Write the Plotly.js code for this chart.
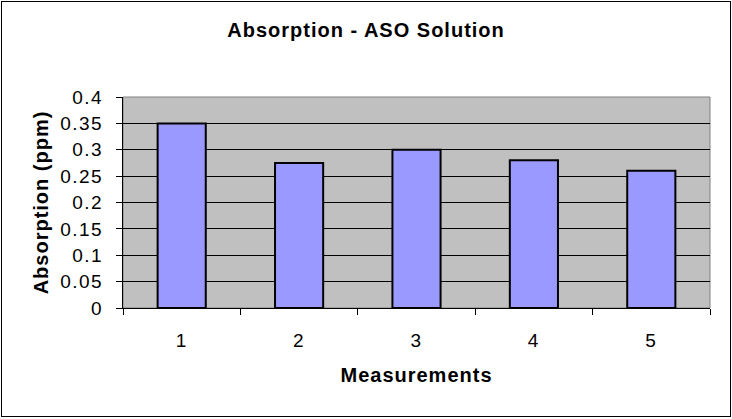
<!DOCTYPE html>
<html>
<head>
<meta charset="utf-8">
<script src="https://cdn.plot.ly/plotly-3.0.1.min.js"></script>
<style>
  html, body { margin: 0; padding: 0; background: #fff; }
  #wrap { position: relative; width: 732px; height: 419px; }
  #chart { width: 732px; height: 419px; }
  #border { position: absolute; left: 1px; top: 1px; width: 728px; height: 414px; border: 1px solid #000; pointer-events: none; }
  #chart .gtitle, #chart .xtitle, #chart .ytitle { letter-spacing: 1px; }
</style>
</head>
<body>
<div id="wrap">
  <div id="chart"></div>
  <div id="border"></div>
</div>
<script>
const categories = ["1", "2", "3", "4", "5"];
const absorption = [0.35, 0.275, 0.30, 0.28, 0.26];
const yTickVals = [0, 0.05, 0.1, 0.15, 0.2, 0.25, 0.3, 0.35, 0.4];
const yTickText = ["0", "0.05", "0.1", "0.15", "0.2", "0.25", "0.3", "0.35", "0.4"];

const font = "Liberation Sans, Arial, sans-serif";

const trace = {
  type: "bar",
  x: categories,
  y: absorption,
  marker: { color: "#9999FF", line: { color: "#000000", width: 2 } },
  hoverinfo: "none"
};

const layout = {
  width: 732,
  height: 419,
  margin: { l: 123, r: 22, t: 97, b: 111 },
  paper_bgcolor: "#ffffff",
  plot_bgcolor: "#C0C0C0",
  bargap: 0.59,
  showlegend: false,
  title: {
    text: "<b>Absorption - ASO Solution</b>",
    font: { family: font, size: 20, color: "#000" },
    x: 0.5, xanchor: "center",
    y: 0.928, yanchor: "middle", yref: "container"
  },
  xaxis: {
    type: "category",
    tickson: "boundaries",
    ticks: "outside",
    ticklen: 6,
    tickcolor: "#000",
    tickwidth: 1,
    showgrid: false,
    showline: true,
    linecolor: "#000",
    linewidth: 1,
    ticklabelstandoff: 15,
    tickfont: { family: font, size: 19, color: "#000" },
    title: { text: "<b>Measurements</b>", font: { family: font, size: 20, color: "#000" }, standoff: 18 }
  },
  yaxis: {
    range: [0, 0.4],
    tickvals: yTickVals,
    ticktext: yTickText,
    ticks: "outside",
    ticklen: 6,
    tickcolor: "#000",
    tickwidth: 1,
    showgrid: true,
    gridcolor: "#000",
    gridwidth: 1,
    zeroline: false,
    showline: true,
    linecolor: "#000",
    linewidth: 1,
    ticklabelstandoff: 9,
    tickfont: { family: font, size: 19, color: "#000" },
    title: { text: "<b>Absorption (ppm)</b>", font: { family: font, size: 20, color: "#000" }, standoff: 12 }
  },
  shapes: [
    { type: "rect", xref: "paper", yref: "paper", x0: 0, x1: 1, y0: 0, y1: 1,
      line: { color: "#808080", width: 1 }, layer: "below" }
  ]
};

Plotly.newPlot("chart", [trace], layout, { displayModeBar: false, staticPlot: true }).then(function (gd) {
  gd.querySelectorAll("g.xtick text, g.ytick text").forEach(function (t) {
    t.style.letterSpacing = "1.5px";
  });
});
</script>
</body>
</html>
